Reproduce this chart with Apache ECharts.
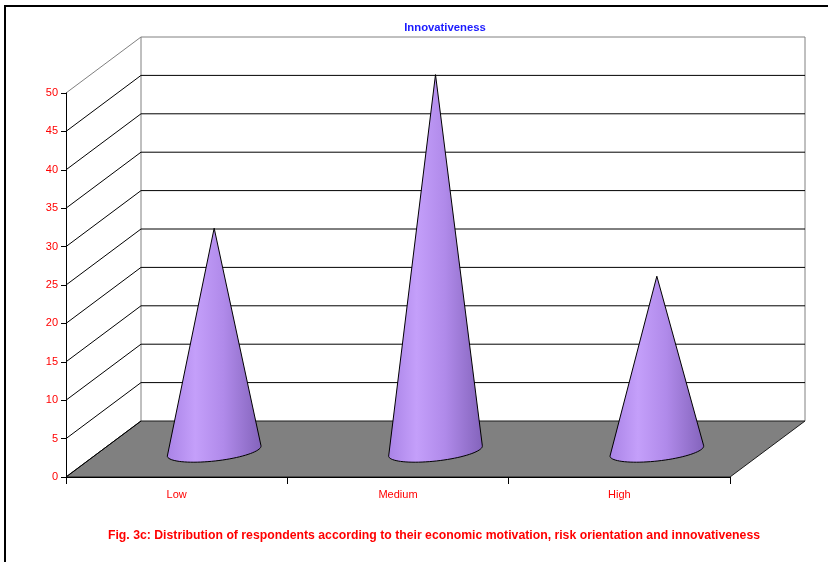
<!DOCTYPE html>
<html>
<head>
<meta charset="utf-8">
<script src="https://cdn.jsdelivr.net/npm/echarts@6/dist/echarts.min.js"></script>
<style>
  html, body { margin: 0; padding: 0; background: #ffffff; }
  #chart { width: 828px; height: 562px; }
</style>
</head>
<body>
<div id="chart"></div>
<script>
// Innovativeness levels and share of respondents (%)
const categories = ['Low', 'Medium', 'High'];
const respondents = [28.75, 48.75, 22.5];
const yTicks = [0, 5, 10, 15, 20, 25, 30, 35, 40, 45, 50];

const Y_MIN = yTicks[0];
const Y_MAX = yTicks[yTicks.length - 1];
const Y_STEP = yTicks[1] - yTicks[0];

// Pseudo-3D depth offset of the back wall (pixels)
const DX = 75;
const DY = -56;
const FONT = '"Liberation Sans", Arial, sans-serif';

const chart = echarts.init(document.getElementById('chart'), null, { renderer: 'canvas' });

// Horizontal extent of the plot taken from the category axis bands
function plotEdges(api) {
  const bw = api.size([1, 0])[0];
  const first = api.coord([0, Y_MIN]);
  const last = api.coord([categories.length - 1, Y_MIN]);
  return { left: first[0] - bw / 2, right: last[0] + bw / 2, bottom: first[1], top: api.coord([0, Y_MAX])[1], bw: bw };
}

// Back wall, side edges and the grey floor
function renderWalls(params, api) {
  const e = plotEdges(api);
  return {
    type: 'group',
    children: [
      { type: 'rect', shape: { x: e.left + DX, y: e.top + DY, width: e.right - e.left, height: e.bottom - e.top },
        style: { fill: '#ffffff', stroke: null } },
      { type: 'line', shape: { x1: e.left + DX, y1: e.top + DY, x2: e.left + DX, y2: e.bottom + DY },
        style: { stroke: '#808080', lineWidth: 1 } },
      { type: 'line', shape: { x1: e.right + DX, y1: e.top + DY, x2: e.right + DX, y2: e.bottom + DY },
        style: { stroke: '#808080', lineWidth: 1 } },
      { type: 'polygon', shape: { points: [[e.left, e.bottom], [e.left + DX, e.bottom + DY], [e.right + DX, e.bottom + DY], [e.right, e.bottom]] },
        style: { fill: '#808080', stroke: '#1a1a1a', lineWidth: 1 } }
    ]
  };
}

// One grid level: diagonal on the side wall plus horizontal line on the back wall
function renderGridLevel(params, api) {
  const v = api.value(1);
  const e = plotEdges(api);
  const y = api.coord([0, v])[1];
  const color = v === Y_MAX ? '#808080' : '#000000';
  const children = [
    { type: 'line', shape: { x1: e.left, y1: y, x2: e.left + DX, y2: y + DY }, style: { stroke: color, lineWidth: 1 } }
  ];
  if (v !== Y_MIN) {
    children.push({ type: 'line', shape: { x1: e.left + DX, y1: y + DY, x2: e.right + DX, y2: y + DY }, style: { stroke: color, lineWidth: 1 } });
  }
  return { type: 'group', children: children };
}

// Cone standing at mid depth of the floor
function renderCone(params, api) {
  const i = api.value(0);
  const v = api.value(1);
  const bw = api.size([1, 0])[0];
  const base = api.coord([i, Y_MIN]);
  const tip = api.coord([i, v]);
  const cx = base[0] + DX / 2;
  const cy = base[1] + DY / 2 + 2;
  const ty = tip[1] + DY / 2;
  const rx = bw * 0.213;
  const ry = 10;
  const a = -0.11;
  const pts = [[cx, ty]];
  const N = 40;
  for (let k = 0; k <= N; k++) {
    const t = Math.PI - (k * Math.PI) / N;
    const ex = rx * Math.cos(t);
    const ey = ry * Math.sin(t);
    pts.push([cx + ex * Math.cos(a) - ey * Math.sin(a), cy + ex * Math.sin(a) + ey * Math.cos(a)]);
  }
  return {
    type: 'polygon',
    shape: { points: pts },
    style: {
      fill: new echarts.graphic.LinearGradient(0, 0, 1, 0, [
        { offset: 0, color: '#a983e6' },
        { offset: 0.3, color: '#c49ffa' },
        { offset: 0.6, color: '#b08aea' },
        { offset: 1, color: '#8363bb' }
      ]),
      stroke: '#000000',
      lineWidth: 1
    }
  };
}

chart.setOption({
  backgroundColor: '#ffffff',
  animation: false,
  grid: { left: 66, right: 98, top: 93, bottom: 85, containLabel: false },
  xAxis: {
    type: 'category',
    data: categories,
    boundaryGap: true,
    z: 10,
    axisLine: { show: true, lineStyle: { color: '#000000', width: 1 } },
    axisTick: { show: true, length: 7, alignWithLabel: false, lineStyle: { color: '#000000' } },
    axisLabel: { color: '#ff0000', fontSize: 11, fontFamily: FONT, margin: 12 },
    splitLine: { show: false }
  },
  yAxis: {
    type: 'value',
    min: Y_MIN,
    max: Y_MAX,
    interval: Y_STEP,
    z: 10,
    axisLine: { show: true, lineStyle: { color: '#000000', width: 1 } },
    axisTick: { show: true, length: 5, lineStyle: { color: '#000000' } },
    axisLabel: { color: '#ff0000', fontSize: 11, fontFamily: FONT, margin: 8 },
    splitLine: { show: false }
  },
  series: [
    { type: 'custom', name: 'walls', z: 1, clip: false, silent: true, data: [[0, Y_MIN]], renderItem: renderWalls },
    { type: 'custom', name: 'grid', z: 2, clip: false, silent: true, data: yTicks.map(v => [0, v]), renderItem: renderGridLevel },
    { type: 'custom', name: 'Innovativeness', z: 3, clip: false, data: respondents.map((v, i) => [i, v]), renderItem: renderCone }
  ],
  graphic: [
    { type: 'line', shape: { x1: 4, y1: 6, x2: 828, y2: 6 }, style: { stroke: '#000000', lineWidth: 2 } },
    { type: 'line', shape: { x1: 5, y1: 6, x2: 5, y2: 562 }, style: { stroke: '#000000', lineWidth: 2 } },
    { type: 'text', x: 445, y: 28,
      style: { text: 'Innovativeness', align: 'center', verticalAlign: 'middle', fill: '#1a1aff', fontSize: 11.3, fontWeight: 'bold', fontFamily: FONT } },
    { type: 'text', x: 434, y: 536,
      style: { text: 'Fig. 3c: Distribution of respondents according to their economic motivation, risk orientation and innovativeness',
        align: 'center', verticalAlign: 'middle', fill: '#ff0000', fontSize: 12.25, fontWeight: 'bold', fontFamily: FONT } }
  ]
});
</script>
</body>
</html>
